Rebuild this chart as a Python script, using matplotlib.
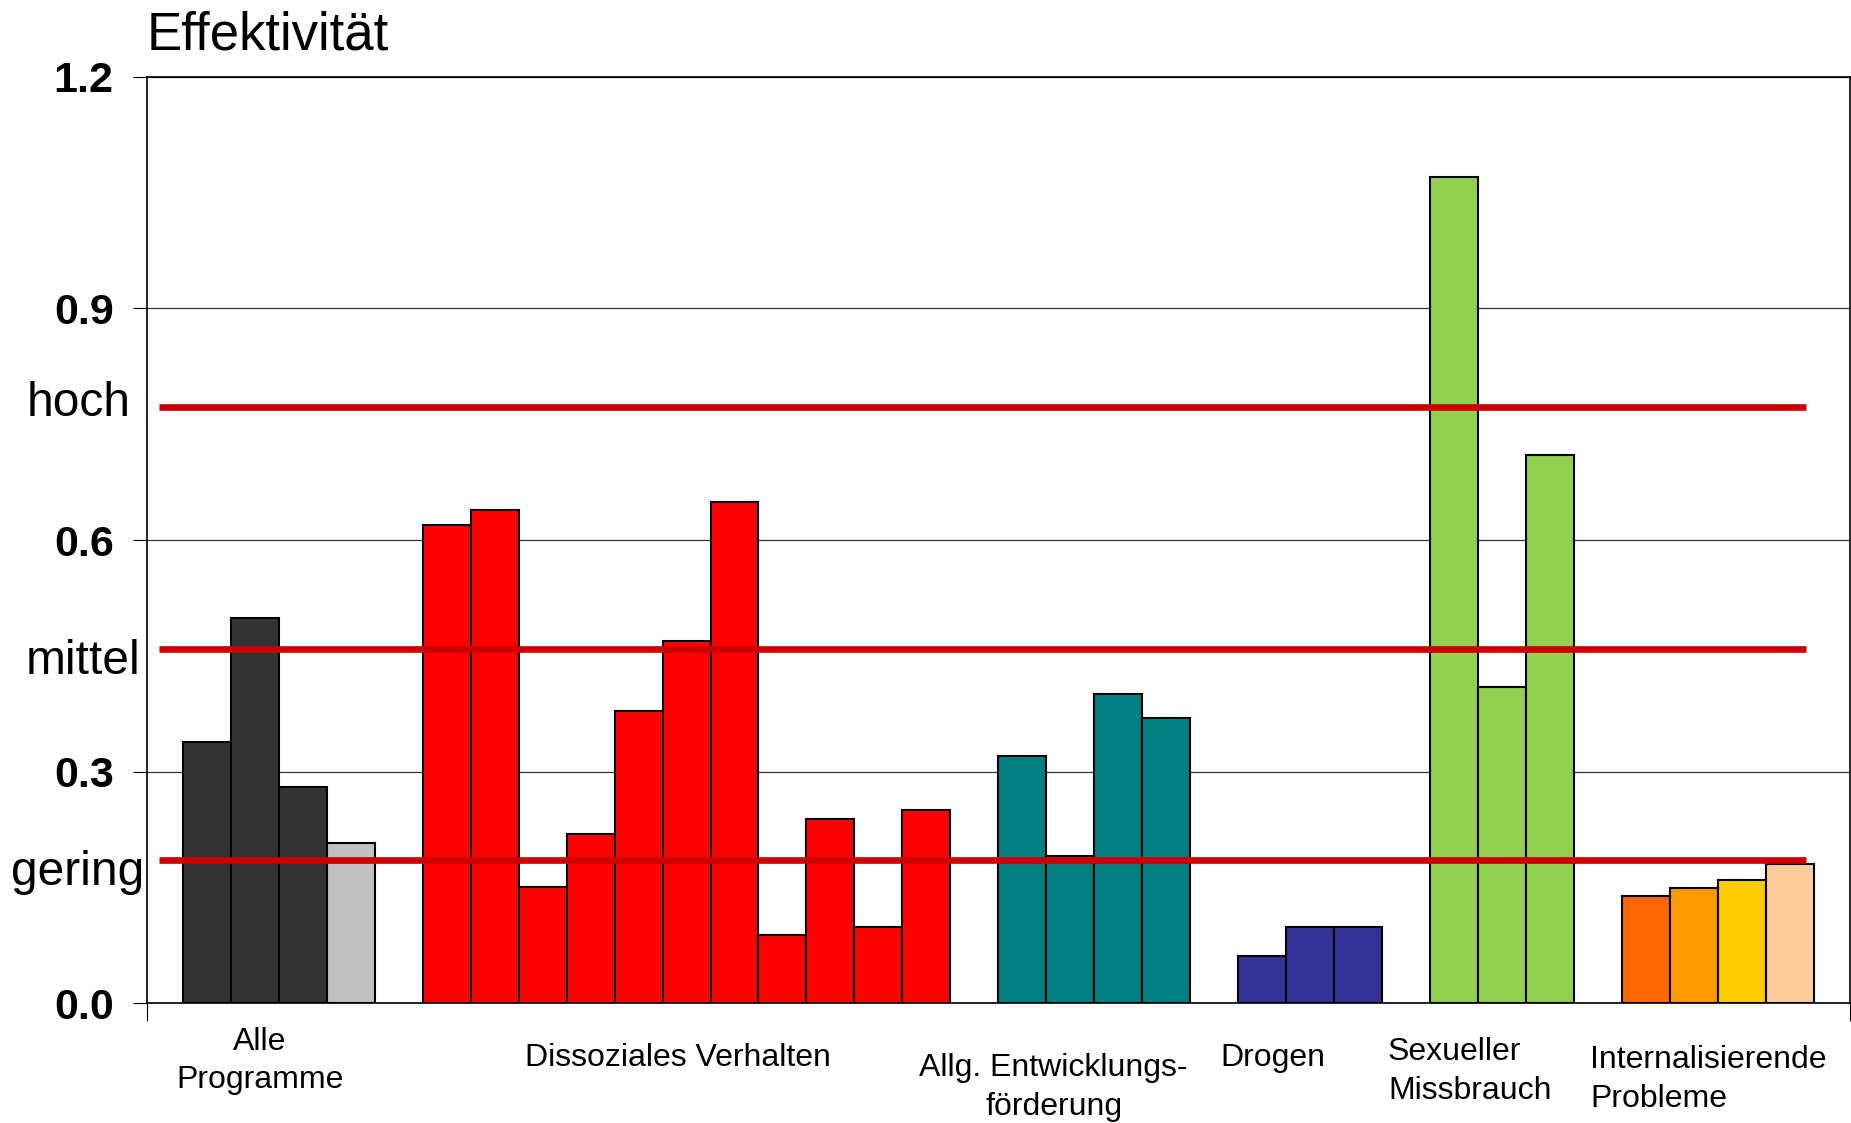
import matplotlib.pyplot as plt

plt.rcParams['font.family'] = ['Liberation Sans', 'DejaVu Sans']

# Effektstärken je Programmgruppe
alle_programme = [0.339, 0.499, 0.280, 0.208]
dissozial = [0.619, 0.639, 0.150, 0.219, 0.379, 0.469, 0.649, 0.089, 0.239, 0.099, 0.250]
entwicklung = [0.320, 0.191, 0.400, 0.369]
drogen = [0.061, 0.099, 0.099]
missbrauch = [1.070, 0.410, 0.710]
internalisierend = [0.139, 0.149, 0.160, 0.181]

farben_alle = ['#333333', '#333333', '#333333', '#C0C0C0']
farben_dissozial = ['#FF0000'] * len(dissozial)
farben_entwicklung = ['#008080'] * len(entwicklung)
farben_drogen = ['#333399'] * len(drogen)
farben_missbrauch = ['#92D050'] * len(missbrauch)
farben_internal = ['#FF6600', '#FF9900', '#FFCC00', '#FFCC99']

# Grenzwerte für die Effektstufen
stufen = ['gering', 'mittel', 'hoch']
grenzen = [0.186, 0.459, 0.772]

yticks = [0.0, 0.3, 0.6, 0.9, 1.2]
ytick_labels = ['0.0', '0.3', '0.6', '0.9', '1.2']

gruppen = [alle_programme, dissozial, entwicklung, drogen, missbrauch, internalisierend]
gruppen_farben = [farben_alle, farben_dissozial, farben_entwicklung,
                  farben_drogen, farben_missbrauch, farben_internal]

W, H = 1851, 1123
fig = plt.figure(figsize=(W / 100, H / 100), dpi=100)
ax = fig.add_axes([147 / W, 1 - 1003.3 / H, (1849.5 - 147) / W, (1003.3 - 76.7) / H])

# Balken gruppenweise, eine Lücke zwischen den Gruppen
pos = 0
for werte, farben in zip(gruppen, gruppen_farben):
    xs = list(range(pos, pos + len(werte)))
    ax.bar(xs, werte, width=1.0, color=farben, edgecolor='black', linewidth=1.5, zorder=3)
    pos += len(werte) + 1
letzter = pos - 2

ax.set_xlim(-1.25, letzter + 1.25)
ax.set_ylim(0, 1.2)

# Stufenlinien
ax.hlines(grenzen, -1.0, letzter + 0.35, color='#CC0000', linewidth=4.8, zorder=4)

ax.set_yticks(yticks)
ax.set_yticklabels(ytick_labels, fontsize=31, fontweight='bold')
ax.tick_params(axis='y', direction='out', length=10, width=0.8, pad=14)
ax.set_xticks(list(ax.get_xlim()))
ax.set_xticklabels([])
ax.tick_params(axis='x', direction='out', length=13, width=0.8)

ax.yaxis.grid(True, color='#333333', linewidth=0.9, zorder=0)
ax.set_axisbelow(True)
for s in ax.spines.values():
    s.set_linewidth(1.2)
    s.set_color('black')

fig.text(147 / W, 1 - 49 / H, 'Effektivität', fontsize=38, ha='left', va='baseline')

stufen_pos = [(10.5, 885), (26, 674), (27, 415.7)]
for name, (px, py) in zip(stufen, stufen_pos):
    fig.text(px / W, 1 - py / H, name, fontsize=34.5, ha='left', va='baseline')

# Gruppenbeschriftungen (bei mehrzeiligen Texten: Grundlinie der letzten Zeile)
kat = dict(fontsize=23, va='baseline', linespacing=1.37)
fig.text(260 / W, 1 - 1088.3 / H, 'Alle\nProgramme', ha='center', multialignment='center', **kat)
fig.text(677.5 / W, 1 - 1066 / H, 'Dissoziales Verhalten', ha='center', **kat)
fig.text(1053.6 / W, 1 - 1114.5 / H, 'Allg. Entwicklungs-\nförderung', ha='center',
         multialignment='center', **kat)
fig.text(1272.6 / W, 1 - 1066 / H, 'Drogen', ha='center', **kat)
fig.text(1388 / W, 1 - 1099 / H, 'Sexueller\nMissbrauch', ha='left', multialignment='left', **kat)
fig.text(1590 / W, 1 - 1106.7 / H, 'Internalisierende\nProbleme', ha='left',
         multialignment='left', **kat)

fig.savefig('out.png', dpi=100)
